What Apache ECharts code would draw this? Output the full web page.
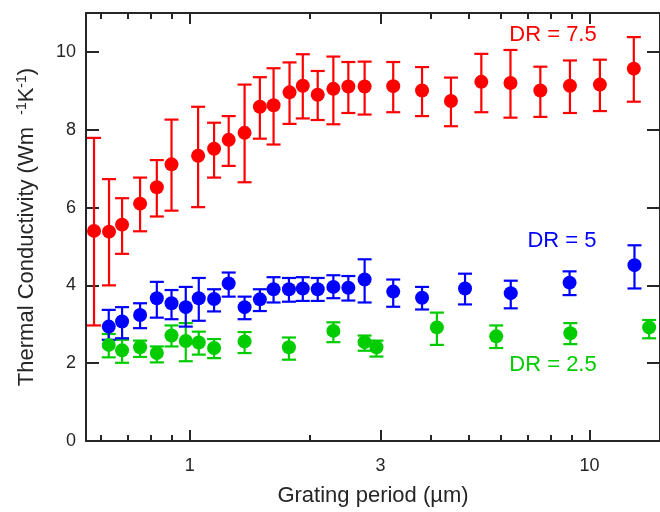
<!DOCTYPE html>
<html>
<head>
<meta charset="utf-8">
<script src="https://cdn.jsdelivr.net/npm/echarts@6/dist/echarts.min.js"></script>
<style>
  html, body { margin: 0; padding: 0; background: #fff; }
  #main { width: 660px; height: 512px; }
</style>
</head>
<body>
<div id="main"></div>
<script>
// grating period (um) and conductivity, bar ends
var redX  = [0.576, 0.628, 0.677, 0.751, 0.827, 0.900, 1.049, 1.15, 1.251, 1.371, 1.497, 1.62, 1.776, 1.917, 2.089, 2.286, 2.492, 2.737, 3.227, 3.81, 4.50, 5.36, 6.34, 7.53, 8.93, 10.61, 12.9];
var redY  = [5.40, 5.38, 5.56, 6.10, 6.52, 7.11, 7.33, 7.51, 7.74, 7.92, 8.59, 8.63, 8.96, 9.13, 8.90, 9.05, 9.11, 9.11, 9.12, 9.01, 8.74, 9.23, 9.20, 9.01, 9.13, 9.16, 9.57];
var redHi = [7.79, 6.73, 6.24, 6.77, 7.22, 8.26, 8.59, 8.18, 8.35, 9.16, 9.35, 9.58, 9.73, 9.94, 9.51, 9.88, 9.74, 9.75, 9.74, 9.61, 9.34, 9.95, 10.05, 9.62, 9.78, 9.80, 10.38];
var redLo = [2.97, 4.00, 4.81, 5.39, 5.77, 5.92, 6.01, 6.77, 7.07, 6.65, 7.77, 7.62, 8.15, 8.29, 8.25, 8.14, 8.43, 8.39, 8.45, 8.35, 8.09, 8.45, 8.31, 8.33, 8.43, 8.48, 8.72];

var blueX  = [0.627, 0.677, 0.751, 0.827, 0.900, 0.977, 1.053, 1.15, 1.251, 1.371, 1.497, 1.62, 1.77, 1.917, 2.089, 2.286, 2.492, 2.737, 3.227, 3.81, 4.88, 6.35, 8.91, 12.95];
var blueY  = [2.94, 3.07, 3.24, 3.67, 3.54, 3.44, 3.67, 3.65, 4.05, 3.44, 3.64, 3.90, 3.90, 3.92, 3.90, 3.96, 3.94, 4.15, 3.84, 3.68, 3.92, 3.80, 4.07, 4.52];
var blueHi = [3.37, 3.44, 3.54, 4.09, 3.88, 3.96, 4.19, 3.90, 4.33, 3.71, 3.90, 4.21, 4.19, 4.21, 4.19, 4.26, 4.24, 4.67, 4.15, 3.96, 4.30, 4.12, 4.36, 5.03];
var blueLo = [2.60, 2.64, 2.90, 3.17, 3.13, 2.94, 3.09, 3.33, 3.71, 3.13, 3.34, 3.56, 3.58, 3.60, 3.60, 3.67, 3.61, 3.56, 3.45, 3.38, 3.51, 3.41, 3.75, 3.92];

var greenX  = [0.627, 0.677, 0.751, 0.827, 0.900, 0.977, 1.053, 1.15, 1.371, 1.77, 2.286, 2.737, 2.93, 4.15, 5.84, 8.95, 14.09];
var greenY  = [2.47, 2.33, 2.41, 2.26, 2.71, 2.57, 2.53, 2.39, 2.56, 2.41, 2.83, 2.54, 2.41, 2.92, 2.69, 2.77, 2.92];
var greenHi = [2.75, 2.60, 2.58, 2.43, 2.97, 3.03, 2.81, 2.62, 2.80, 2.66, 3.05, 2.71, 2.58, 3.30, 2.97, 3.03, 3.11];
var greenLo = [2.15, 2.01, 2.16, 2.02, 2.43, 2.05, 2.22, 2.13, 2.26, 2.09, 2.54, 2.32, 2.17, 2.47, 2.39, 2.49, 2.64];

var xMajor = [1, 3, 10];
var xMinor = [0.6, 0.7, 0.8, 0.9, 2, 4, 5, 6, 7, 8, 9];
var yTicks = [0, 2, 4, 6, 8, 10];

var FONT = "'Liberation Sans', Arial, sans-serif";
var AX = '#262626';

var chart = echarts.init(document.getElementById('main'), null, { renderer: 'canvas' });

// x axis builder, same range for all (box with inward ticks)
function xAx(pos, ticks, len, labels, line) {
  return {
    type: 'log',
    position: pos,
    min: 0.55,
    max: 15,
    axisLine: { show: line, lineStyle: { color: AX, width: 2 } },
    axisTick: { show: true, inside: true, length: len, customValues: ticks, lineStyle: { color: AX, width: 2 } },
    axisLabel: { show: labels, customValues: ticks, margin: 16, fontSize: 18, color: AX, fontFamily: FONT },
    splitLine: { show: false },
    minorTick: { show: false },
    name: labels ? 'Grating period (µm)' : '',
    nameLocation: 'middle',
    nameGap: 44,
    nameTextStyle: { fontSize: 22, color: AX, fontFamily: FONT }
  };
}

function yAx(pos, labels) {
  return {
    type: 'value',
    position: pos,
    min: 0,
    max: 11,
    axisLine: { show: true, lineStyle: { color: AX, width: 2 } },
    axisTick: { show: true, inside: true, length: 13, customValues: yTicks, lineStyle: { color: AX, width: 2 } },
    axisLabel: { show: labels, customValues: yTicks, margin: 10, fontSize: 18, color: AX, fontFamily: FONT },
    splitLine: { show: false },
    name: labels ? 'Thermal Conductivity (Wm  {s|-1}K{s|-1})' : '',
    nameLocation: 'middle',
    nameGap: 48,
    nameTextStyle: {
      fontSize: 22, color: AX, fontFamily: FONT,
      rich: { s: { fontSize: 14, color: AX, fontFamily: FONT, verticalAlign: 'top', padding: [0, 0, 9, 0] } }
    }
  };
}

function bars(name, color, xs, lo, hi) {
  return {
    name: name,
    type: 'custom',
    xAxisIndex: 0,
    yAxisIndex: 0,
    encode: { x: 0, y: [1, 2] },
    renderItem: function (params, api) {
      var top = api.coord([api.value(0), api.value(2)]);
      var bot = api.coord([api.value(0), api.value(1)]);
      var w = 7;
      var st = { stroke: color, lineWidth: 2.2 };
      return {
        type: 'group',
        children: [
          { type: 'line', shape: { x1: top[0], y1: top[1], x2: bot[0], y2: bot[1] }, style: st },
          { type: 'line', shape: { x1: top[0] - w, y1: top[1], x2: top[0] + w, y2: top[1] }, style: st },
          { type: 'line', shape: { x1: bot[0] - w, y1: bot[1], x2: bot[0] + w, y2: bot[1] }, style: st }
        ]
      };
    },
    data: xs.map(function (x, i) { return [x, lo[i], hi[i]]; }),
    silent: true
  };
}

function dots(name, color, xs, ys) {
  return {
    name: name,
    type: 'scatter',
    xAxisIndex: 0,
    yAxisIndex: 0,
    symbol: 'circle',
    symbolSize: 14,
    itemStyle: { color: color, opacity: 1 },
    data: xs.map(function (x, i) { return [x, ys[i]]; })
  };
}

var RED = '#ff0000', BLUE = '#0000ff', GREEN = '#00cc00';

var option = {
  animation: false,
  backgroundColor: '#fff',
  grid: { left: 86, top: 13, right: -2, bottom: 68, containLabel: false },
  xAxis: [
    xAx('bottom', xMajor, 11, true, true),
    xAx('bottom', xMinor, 6, false, false),
    xAx('top', xMajor, 11, false, true),
    xAx('top', xMinor, 6, false, false)
  ],
  yAxis: [yAx('left', true), yAx('right', false)],
  series: [
    bars('DR = 2.5', GREEN, greenX, greenLo, greenHi),
    dots('DR = 2.5', GREEN, greenX, greenY),
    bars('DR = 5', BLUE, blueX, blueLo, blueHi),
    dots('DR = 5', BLUE, blueX, blueY),
    bars('DR = 7.5', RED, redX, redLo, redHi),
    dots('DR = 7.5', RED, redX, redY)
  ],
  graphic: [
    { type: 'text', x: 553, y: 35, style: { text: 'DR = 7.5', fill: RED, font: '22px ' + FONT, textAlign: 'center', textVerticalAlign: 'middle' } },
    { type: 'text', x: 562, y: 241, style: { text: 'DR = 5', fill: BLUE, font: '22px ' + FONT, textAlign: 'center', textVerticalAlign: 'middle' } },
    { type: 'text', x: 553, y: 365, style: { text: 'DR = 2.5', fill: GREEN, font: '22px ' + FONT, textAlign: 'center', textVerticalAlign: 'middle' } }
  ]
};

chart.setOption(option);
</script>
</body>
</html>
